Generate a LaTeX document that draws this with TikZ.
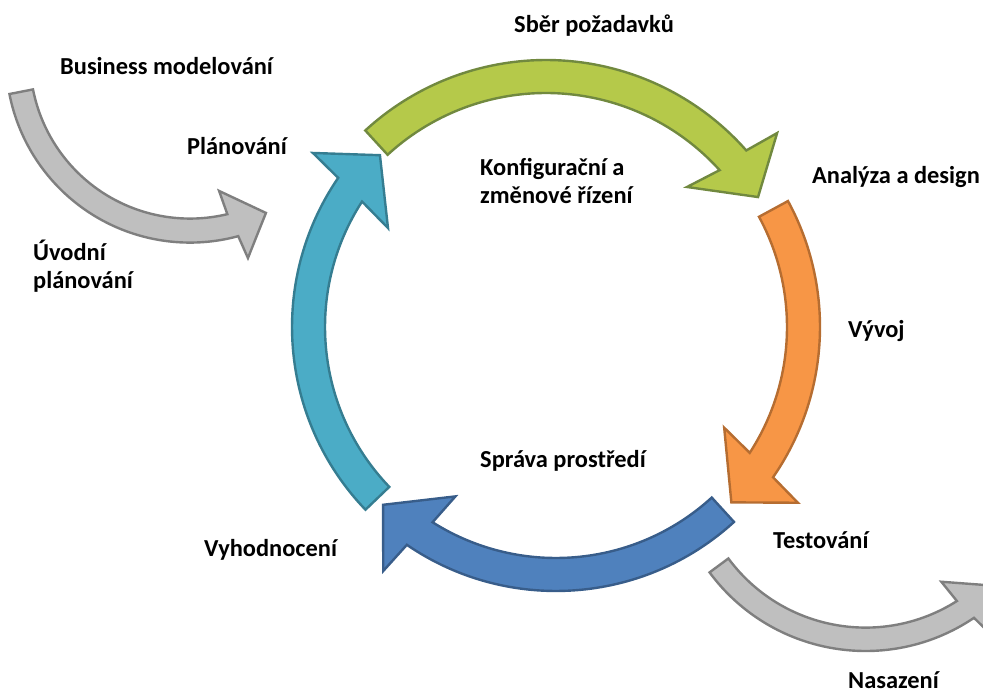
\documentclass[tikz,border=0pt]{standalone}
\usepackage{fontspec}
\setmainfont{Carlito}
\begin{document}
\begin{tikzpicture}[x=1bp,y=1bp,
  lbl/.style={font=\fontsize{24.5}{28}\selectfont\bfseries, inner sep=0pt, anchor=base west},
  lbltwo/.style={lbl, align=left},
  arrowshape/.style={line width=2.4bp, line join=miter},
  greenarrow/.style={arrowshape, fill=greenfill, draw=greenline},
  orangearrow/.style={arrowshape, fill=orangefill, draw=orangeline},
  bluearrow/.style={arrowshape, fill=bluefill, draw=blueline},
  tealarrow/.style={arrowshape, fill=tealfill, draw=tealline},
  greyarrow/.style={arrowshape, fill=greyfill, draw=greyline}]
\definecolor{greenfill}{RGB}{181,201,74}
\definecolor{greenline}{RGB}{113,137,63}
\definecolor{orangefill}{RGB}{247,150,70}
\definecolor{orangeline}{RGB}{182,109,49}
\definecolor{bluefill}{RGB}{79,129,189}
\definecolor{blueline}{RGB}{56,93,138}
\definecolor{tealfill}{RGB}{75,172,198}
\definecolor{tealline}{RGB}{53,125,145}
\definecolor{greyfill}{RGB}{191,191,191}
\definecolor{greyline}{RGB}{127,127,127}

\useasboundingbox (0,0) rectangle (983,-693);
\clip (0,0) rectangle (983,-693);

% ---- ring of four cycle arrows ----
\begin{scope}[shift={(546,-327)}]
  % green: requirements
  \draw[greenarrow] (132.6:267) arc[start angle=132.6, end angle=41.4, radius=267]
    -- (40:301.7) -- (31.5:248.7) -- (44.8:198.7) -- (42.1:234)
    arc[start angle=42.1, end angle=132.6, radius=234] -- cycle;
\end{scope}
\begin{scope}[shift={(556,-327)}]
  % orange: development
  \draw[orangearrow] (28.5:264) arc[start angle=28.5, end angle=-34.7, radius=264]
    -- (-36:299) -- (-45:248) -- (-30.9:196) -- (-33:231)
    arc[start angle=-33, end angle=28.5, radius=231] -- cycle;
  % blue: testing to evaluation
  \draw[bluearrow] (-47.6:264) arc[start angle=-47.6, end angle=-124.4, radius=264]
    -- (-125.3:299) -- (-134.2:248) -- (-120.7:197) -- (-122.3:231)
    arc[start angle=-122.3, end angle=-47.6, radius=231] -- cycle;
  % teal: evaluation to planning
  \draw[tealarrow] (223.8:264) arc[start angle=223.8, end angle=145.6, radius=264]
    -- (144.4:299) -- (135.7:246) -- (149.5:195) -- (147.1:231)
    arc[start angle=147.1, end angle=223.8, radius=231] -- cycle;
\end{scope}

% ---- grey entry and exit arrows ----
\begin{scope}[shift={(190,-58.6)}]
  \draw[greyarrow] (191.1:184) arc[start angle=191.1, end angle=285.2, radius=184]
    -- (286.2:207.7) -- (296.2:172) -- (282.4:135.5) -- (283.5:160)
    arc[start angle=283.5, end angle=191.1, radius=160] -- cycle;
\end{scope}
\begin{scope}[shift={(865.5,-457)}]
  \draw[greyarrow] (216.5:194) arc[start angle=216.5, end angle=304, radius=194]
    -- (305.3:218) -- (315:182) -- (301.3:146) -- (302.4:170.6)
    arc[start angle=302.4, end angle=216.5, radius=170.6] -- cycle;
\end{scope}

% ---- labels (two-line labels sit on the baseline of their last line) ----
\node[lbl]    (sber)   at (514,-33)  {Sběr požadavků};
\node[lbl]    (busmod) at (60,-75)   {Business modelování};
\node[lbl]    (plan)   at (187,-155) {Plánování};
\node[lbltwo] (konf)   at (480,-203) {Konfigurační a\\změnové řízení};
\node[lbl]    (anal)   at (812,-184) {Analýza a design};
\node[lbltwo] (uvod)   at (33,-288)  {Úvodní\\plánování};
\node[lbl]    (vyvoj)  at (848,-337) {Vývoj};
\node[lbl]    (sprava) at (480,-467) {Správa prostředí};
\node[lbl]    (test)   at (773,-548) {Testování};
\node[lbl]    (vyhod)  at (204,-556) {Vyhodnocení};
\node[lbl]    (nasaz)  at (848,-688) {Nasazení};
\end{tikzpicture}
\end{document}
